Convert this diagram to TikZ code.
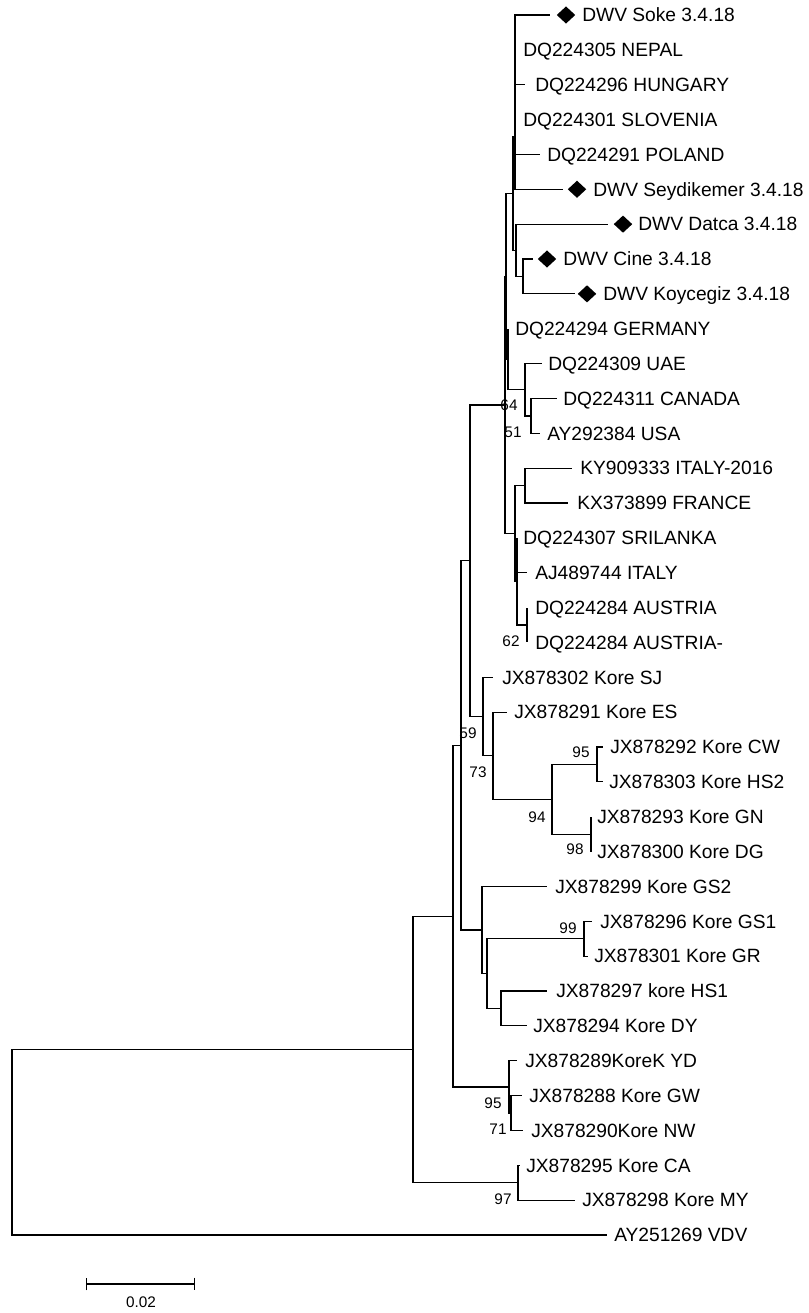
\documentclass[tikz,border=0pt]{standalone}
\usepackage{fontspec}
\setmainfont{Liberation Sans}
\usetikzlibrary{shapes.geometric, arrows.meta}

\begin{document}
\begin{tikzpicture}[x=0.75pt, y=-0.75pt,
    branch/.style={line width=0.9pt, black},
    taxon/.style={anchor=west, inner sep=0pt, text height=10.2pt, text depth=0pt,
                  font=\fontsize{14.4}{16}\selectfont},
    boot/.style={inner sep=0pt, text height=8.2pt, text depth=0pt,
                 font=\fontsize{11.5}{13}\selectfont},
    dmd/.style={diamond, fill=black, inner sep=0pt, minimum width=14pt, minimum height=13pt}]
  \useasboundingbox (0,0) rectangle (809,1313);

  % ── Internal nodes (x in px, y = midpoint of first and last child) ──
  \coordinate (root) at (12,1142.2);
  \coordinate (nR1) at (413,1049.4);
  \coordinate (nS)  at (453,916.1);
  \coordinate (nV)  at (461,745.4);
  \coordinate (nQ)  at (470,560.7);
  \coordinate (nG)  at (505,405.0);
  \coordinate (nP)  at (506,276.4);
  \coordinate (nB)  at (513,193.6);
  \coordinate (nA2) at (515,137.0);
  \coordinate (nA1) at (515,84.7);
  \coordinate (nC)  at (516,250.3);
  \coordinate (nC2) at (523,276.4);
  \coordinate (nF)  at (508,359.2);
  \coordinate (nD)  at (525,389.7);
  \coordinate (nE)  at (531,415.9);
  \coordinate (nH)  at (515,533.5);
  \coordinate (nI)  at (525,485.6);
  \coordinate (nJ)  at (517,581.4);
  \coordinate (nL)  at (527,625.0);
  \coordinate (nK)  at (483,716.5);
  \coordinate (nK2) at (493,755.7);
  \coordinate (nM)  at (552,799.3);
  \coordinate (nN1) at (597,764.4);
  \coordinate (nN2) at (591,834.1);
  \coordinate (nW)  at (482,930.0);
  \coordinate (nX)  at (487,973.6);
  \coordinate (nY)  at (584,938.7);
  \coordinate (nZ)  at (501,1008.4);
  \coordinate (nT)  at (509,1086.9);
  \coordinate (nU)  at (511,1113.0);
  \coordinate (nCM) at (518,1182.7);

  % inner branches
  \foreach \a/\b in {root/nR1, nR1/nS, nR1/nCM, nS/nV, nS/nT, nV/nQ, nV/nW,
                     nQ/nG, nQ/nK, nG/nP, nG/nH, nP/nB, nP/nF, nB/nA2, nB/nC,
                     nA2/nA1, nC/nC2, nF/nD, nD/nE, nH/nI, nH/nJ, nJ/nL,
                     nK/nK2, nK2/nM, nM/nN1, nM/nN2, nW/nX, nX/nY, nX/nZ, nT/nU}
    \draw[branch] (\a) |- (\b);

  % ── Taxa: row / parent / tip x / label x / name ──
  \foreach \i/\pnode/\xe/\xl/\txt in
      {0/nA1/550/582/{DWV Soke 3.4.18},
       1/nA1/515/523/{DQ224305 NEPAL},
       2/nA1/525/535/{DQ224296 HUNGARY},
       3/nA1/515/523/{DQ224301 SLOVENIA},
       4/nA1/540/547/{DQ224291 POLAND},
       5/nA2/563/593/{DWV Seydikemer 3.4.18},
       6/nC/608/638/{DWV Datca 3.4.18},
       7/nC2/533/563/{DWV Cine 3.4.18},
       8/nC2/575/603/{DWV Koycegiz 3.4.18},
       9/nF/508/515/{DQ224294 GERMANY},
       10/nD/542/548/{DQ224309 UAE},
       11/nE/557/563/{DQ224311 CANADA},
       12/nE/540/547/{AY292384 USA},
       13/nI/572/580/{KY909333 ITALY-2016},
       14/nI/568/577/{KX373899 FRANCE},
       15/nJ/517/523/{DQ224307 SRILANKA},
       16/nJ/527/535/{AJ489744 ITALY},
       17/nL/527/535/{DQ224284 AUSTRIA},
       18/nL/527/535/{DQ224284 AUSTRIA-},
       19/nK/493/502/{JX878302 Kore SJ},
       20/nK2/507/514/{JX878291 Kore ES},
       21/nN1/603/610/{JX878292 Kore CW},
       22/nN1/603/609/{JX878303 Kore HS2},
       23/nN2/591/597/{JX878293 Kore GN},
       24/nN2/591/597/{JX878300 Kore DG},
       25/nW/547/555/{JX878299 Kore GS2},
       26/nY/592/600/{JX878296 Kore GS1},
       27/nY/588/594/{JX878301 Kore GR},
       28/nZ/547/556/{JX878297 kore HS1},
       29/nZ/527/533/{JX878294 Kore DY},
       30/nT/517/525/{JX878289KoreK YD},
       31/nU/522/529/{JX878288 Kore GW},
       32/nU/523/531/{JX878290Kore NW},
       33/nCM/520/526/{JX878295 Kore CA},
       34/nCM/575/582/{JX878298 Kore MY},
       35/root/607/614/{AY251269 VDV}} {
    \pgfmathsetmacro{\yy}{15 + 34.857*\i}
    \coordinate (t\i) at (\xe,\yy);
    \node[taxon] (lab\i) at (\xl,\yy) {\txt};
    \draw[branch] (\pnode) |- (t\i);
  }

  % own samples
  \foreach \i/\xd in {0/566, 5/577, 6/623, 7/547, 8/587}
    \node[dmd] (dm\i) at (\xd,{15 + 34.857*\i}) {};

  % ── Bootstrap values ──
  \foreach \nm/\bx/\by/\bv in
      {b64/509/405/64, b51/513/432/51, b62/511/641/62, b59/468/733/59,
       b73/478/772/73, b95a/581/752/95, b94/537/817/94, b98/575/849/98,
       b99/568/928/99, b95b/493/1103/95, b71/498/1129/71, b97/503/1199/97}
    \node[boot] (\nm) at (\bx,\by) {\bv};

  % ── Scale bar ──
  \coordinate (sbL) at (86,1284);
  \coordinate (sbR) at (195,1284);
  \draw[branch, {Bar[width=9.5pt]}-{Bar[width=9.5pt]}] (sbL) -- (sbR);
  \node[boot] (sblab) at (141,1302) {0.02};
\end{tikzpicture}
\end{document}
